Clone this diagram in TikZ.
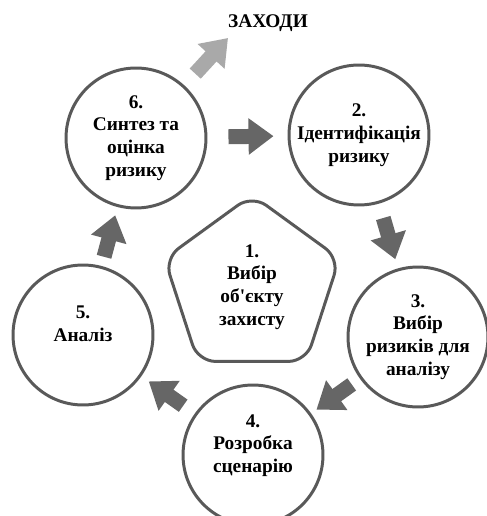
\documentclass[tikz,border=0pt]{standalone}
\usepackage{fontspec}
\setmainfont{Liberation Serif}[Ligatures=TeXOff]
\usetikzlibrary{shapes.geometric,arrows.meta}
\definecolor{ringgray}{HTML}{595959}
\definecolor{arrowdark}{HTML}{666666}
\definecolor{arrowlight}{HTML}{A9A9A9}
\tikzset{
  stagefont/.style={font=\fontsize{11}{13}\selectfont\bfseries},
  stage/.style={circle, draw=ringgray, line width=1.7pt, minimum size=2.8cm, inner sep=0pt, align=center, stagefont},
  flow/.style={draw=arrowdark, line width=0.3cm, -{Triangle[width=0.7cm,length=0.5cm]}}
}
\begin{document}
\begin{tikzpicture}[x=0.02cm,y=-0.02cm]
\useasboundingbox (0,0) rectangle (486,516);
\foreach \n/\x/\y/\txt in {6/136/138/{6.\\Синтез та\\оцінка\\ризику}, 2/359/135/{2.\\Ідентифікація\\ризику}, 3/418/337/{3.\\Вибір\\ризиків для\\аналізу}, 4/253/455/{4.\\Розробка\\сценарію\\\mbox{}}, 5/83/335/{5.\\Аналіз\\\mbox{}}}
  \node[stage] (s\n) at (\x,\y) {\txt};
\node[regular polygon, regular polygon sides=5, draw=ringgray, line width=1.7pt, rounded corners=0.35cm, minimum size=3.68cm, inner sep=0pt, align=center, stagefont] (s1) at (252,287) {1.\\Вибір\\об'єкту\\захисту};
\node[stagefont] (goal) at (268,23) {ЗАХОДИ};
\coordinate (goaltip) at (228,38);
\draw[flow, draw=arrowlight, shorten <=0.32cm] (s6) -- (goaltip);
\foreach \a/\b/\s/\e in {6/2/0.42/0.28, 2/3/0.30/0.19, 3/4/0.20/0.13, 4/5/0.28/0.18, 5/6/0.19/0.17}
  \draw[flow, shorten <=\s cm, shorten >=\e cm] (s\a) -- (s\b);
\end{tikzpicture}
\end{document}
